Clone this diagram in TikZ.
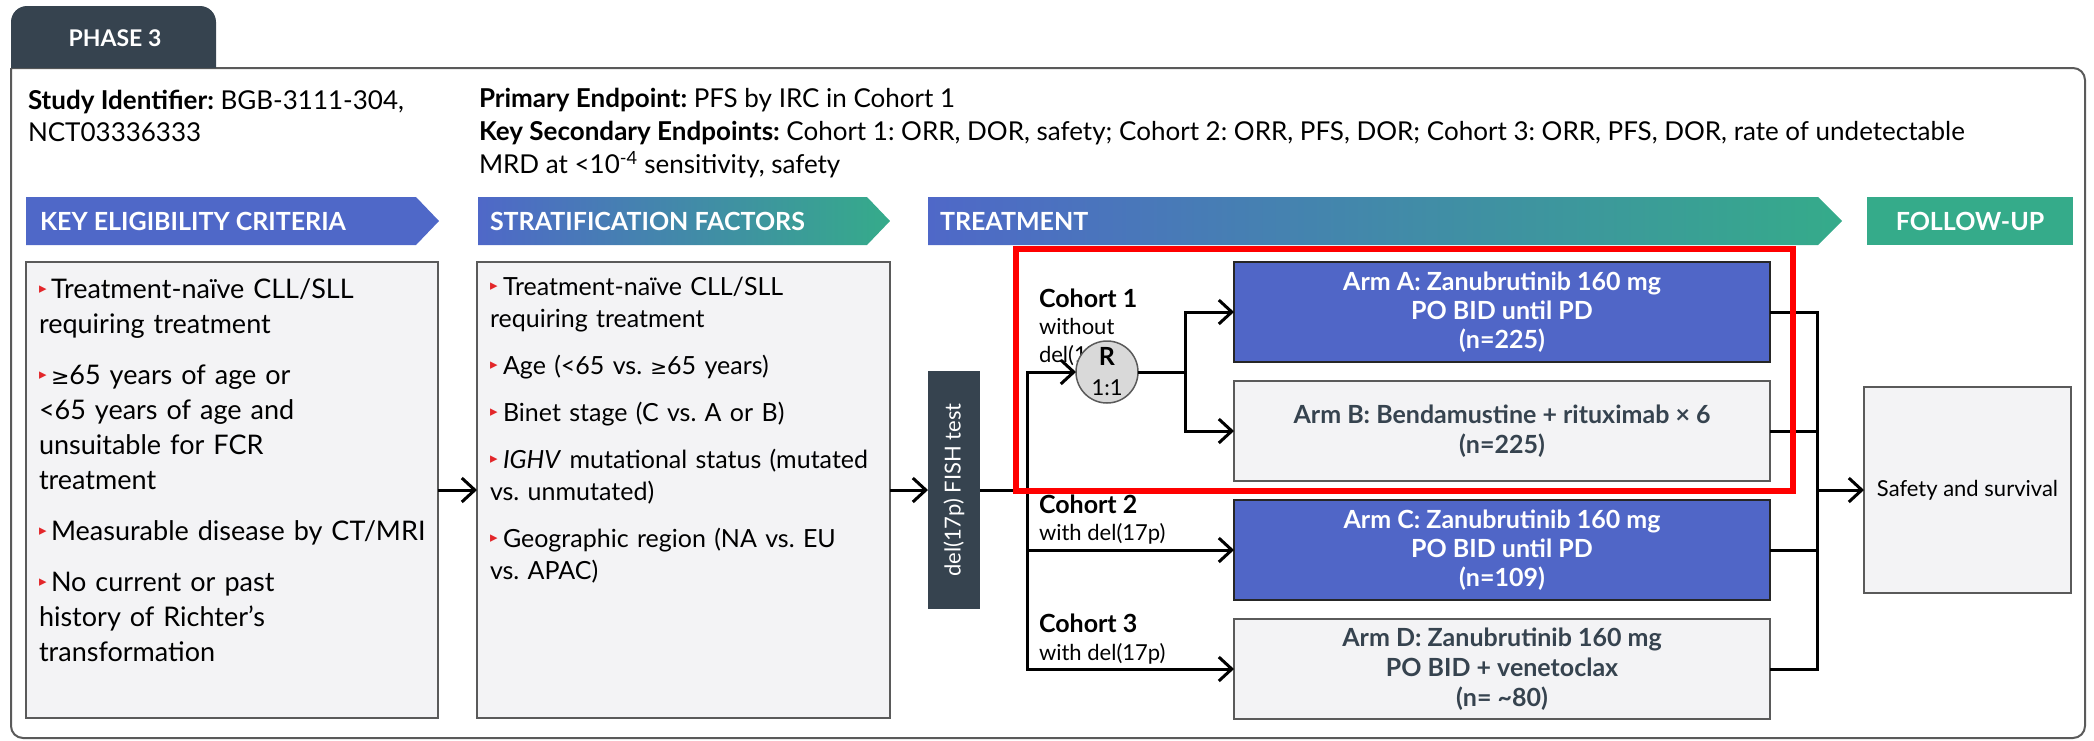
\documentclass[tikz,border=0pt]{standalone}
\usepackage{fontspec}
\setmainfont{Lato}
\newfontfamily\dejavu{DejaVu Sans}
\usetikzlibrary{arrows.meta}
\frenchspacing
\definecolor{slate}{HTML}{36434F}
\definecolor{armblue}{HTML}{5066C7}
\definecolor{hdrblue}{HTML}{4F68C8}
\definecolor{hdrgreen}{HTML}{35AB8A}
\definecolor{boxfill}{HTML}{F3F3F5}
\definecolor{boxline}{HTML}{5A5A5A}
\definecolor{bulred}{HTML}{E3262A}
\definecolor{circfill}{HTML}{D9D9D9}
\definecolor{hlred}{HTML}{FF0000}
\newcommand\fs[2]{\fontsize{#1}{#2}\selectfont}
\newcommand\bulletmark{\textcolor{bulred}{\raisebox{5pt}{\dejavu\fontsize{15}{15}\selectfont ▸}}}
\newcommand\bitem[2]{\hangindent=#1pt\hangafter=1\noindent\makebox[#1pt][l]{\bulletmark}#2\par}
\newcommand\geqs{{\dejavu\fontsize{22}{22}\selectfont ≥}}
\tikzset{
  conn/.style={line width=3pt, draw=black},
  arr/.style={conn, -{Straight Barb[length=13pt,width=24pt]}},
  lightbox/.style={draw=boxline, line width=1.5pt, fill=boxfill, inner sep=0pt},
  armb/.style={draw=black!85, line width=1.5pt, fill=armblue, text=white, align=center,
    minimum width=536pt, minimum height=100pt, font=\bfseries\fs{25}{29}},
  arml/.style={draw=boxline, line width=1.5pt, fill=boxfill, text=slate, align=center,
    minimum width=536pt, minimum height=100pt, font=\bfseries\fs{25}{30}},
  hdrtext/.style={text=white, font=\bfseries\fs{25}{25}, anchor=west},
  cohort/.style={anchor=west, align=left, text=black, font=\fs{22}{27.5}},
}
\begin{document}
\begin{tikzpicture}[x=1pt,y=-1pt, every node/.style={inner sep=0pt, outer sep=0pt}]
\useasboundingbox (0,0) rectangle (2094,740);
% frame
\draw[line width=2pt, draw=boxline] (11,68) -- (216,68) [rounded corners=12pt] -- (2085,68) -- (2085,738) -- (11,738) [sharp corners] -- (11,68);
\fill[slate, rounded corners=16pt] (11,68) -- (11,6) -- (216,6) -- (216,68);
\node[text=white, font=\bfseries\fs{23}{23}] (phase) at (115,38) {PHASE 3};

% top texts
\node[anchor=west, align=left, font=\fs{26}{32}] (ident) at (28,116) {\textbf{Study Identifier:} BGB-3111-304,\\NCT03336333};
\node[anchor=west, align=left, font=\fs{26}{33}] (endp) at (479,133) {\textbf{Primary Endpoint:} PFS by IRC in Cohort 1\\\textbf{Key Secondary Endpoints:} Cohort 1: ORR, DOR, safety; Cohort 2: ORR, PFS, DOR; Cohort 3: ORR, PFS, DOR, rate of undetectable\\MRD at <10\textsuperscript{-4} sensitivity, safety};

% headers
\fill[hdrblue] (26,197) -- (416,197) -- (439,221) -- (416,245) -- (26,245) -- cycle;
\node[hdrtext] (h1) at (40,221) {KEY ELIGIBILITY CRITERIA};
\shade[left color=hdrblue, right color=hdrgreen] (478,197) -- (867,197) -- (890,221) -- (867,245) -- (478,245) -- cycle;
\node[hdrtext] (h2) at (490,221) {STRATIFICATION FACTORS};
\shade[left color=hdrblue, right color=hdrgreen] (928,197) -- (1818,197) -- (1842,221) -- (1818,245) -- (928,245) -- cycle;
\node[hdrtext] (h3) at (940,221) {TREATMENT};
\fill[hdrgreen] (1867,197) rectangle (2073,245);
\node[hdrtext, anchor=center] (h4) at (1970,221) {FOLLOW-UP};

% left boxes
\node[lightbox, minimum width=412pt, minimum height=456pt] (box1) at (232,490) {};
\node[anchor=north west, text width=395pt, align=left, font=\fs{27}{35}] (list1) at (39,279) {%
\setlength\parskip{16pt}%
\bitem{12}{Treatment-naïve CLL/SLL\\requiring treatment}
\bitem{12}{\geqs65 years of age or\\<65 years of age and\\unsuitable for FCR\\treatment}
\bitem{12}{Measurable disease by CT/MRI}
\bitem{12}{No current or past\\history of Richter’s\\transformation}};

\node[lightbox, minimum width=413pt, minimum height=456pt] (box2) at (683.5,490) {};
\node[anchor=north west, text width=395pt, align=left, font=\fs{25}{32}] (list2) at (490,277) {%
\setlength\parskip{15pt}%
\bitem{13}{Treatment-naïve CLL/SLL\\requiring treatment}
\bitem{13}{Age (<65 vs. {\dejavu\fontsize{20}{20}\selectfont ≥}65 years)}
\bitem{13}{Binet stage (C vs.\ A or B)}
\bitem{13}{\textit{IGHV} mutational status (mutated\\vs. unmutated)}
\bitem{13}{Geographic region (NA vs. EU\\vs. APAC)}};

% FISH
\node[fill=slate, minimum width=52pt, minimum height=238pt] (fish) at (954,490) {};
\node[rotate=90, text=white, font=\fs{22}{22}] (fishtext) at (fish.center) {del(17p) FISH test};

% arms
\node[armb] (armA) at (1502,312) {Arm A: Zanubrutinib 160 mg\\PO BID until PD\\(n=225)};
\node[arml] (armB) at (1502,431) {Arm B: Bendamustine + rituximab × 6\\(n=225)};
\node[armb] (armC) at (1502,550) {Arm C: Zanubrutinib 160 mg\\PO BID until PD\\(n=109)};
\node[arml] (armD) at (1502,669) {Arm D: Zanubrutinib 160 mg\\PO BID + venetoclax\\(n= \textasciitilde 80)};

% cohorts
\node[cohort] (c1) at (1039,327.5) {{\bfseries\fs{25}{27.5}Cohort 1}\\without\\del(17p)};
\node[cohort] (c2) at (1039,519.5) {{\bfseries\fs{25}{27.5}Cohort 2}\\with del(17p)};
\node[cohort] (c3) at (1039,639) {{\bfseries\fs{25}{27.5}Cohort 3}\\with del(17p)};

% randomisation circle
\node[circle, fill=circfill, draw=boxline, line width=1.5pt, minimum size=62pt, align=center, font=\fs{22}{30}] (R) at (1107,372) {{\bfseries\fs{25}{30}R}\\1:1};

% safety
\node[lightbox, minimum width=207pt, minimum height=206pt, font=\fs{22}{27}] (safety) at (1967.5,490) {Safety and survival};

% connectors
\coordinate (tr) at (1027,490);
\coordinate (br) at (1185,372);
\coordinate (mg) at (1817,490);
\draw[arr] (box1) -- (box2);
\draw[arr] (box2) -- (fish);
\draw[conn] (fish.east) -- (tr);
\draw[arr] (tr) |- (R.west);
\draw[arr] (tr) |- (armC.west);
\draw[arr] (tr) |- (armD.west);
\draw[conn] (R.east) -- (br);
\draw[arr] (br) |- (armA.west);
\draw[arr] (br) |- (armB.west);
\draw[conn] (armA.east) -| (mg);
\draw[conn] (armD.east) -| (mg);
\draw[conn] (armB.east) -- (armB.east -| mg);
\draw[conn] (armC.east) -- (armC.east -| mg);
\draw[arr] (mg) -- (safety.west);

% highlight
\draw[hlred, line width=6pt] (1016,249) rectangle (1793,491);
\end{tikzpicture}
\end{document}
